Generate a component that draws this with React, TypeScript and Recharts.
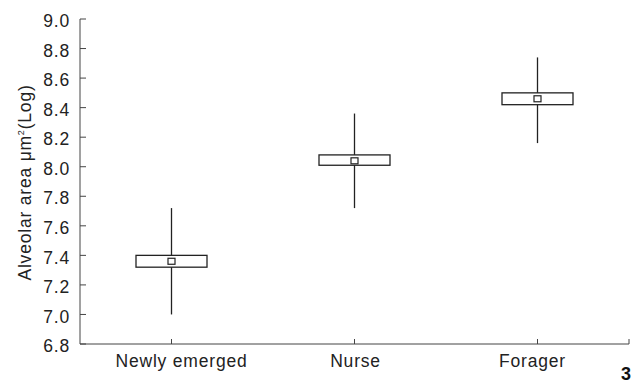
import React from "react";
import { Bar, ComposedChart, XAxis, YAxis } from "recharts";

// Alveolar area (log µm²) per worker group: whisker range, box and mean marker.
const GROUPS = ["Newly emerged", "Nurse", "Forager"];
const WHISKER_LOW = [7.0, 7.72, 8.16];
const BOX_LOW = [7.32, 8.01, 8.42];
const MEANS = [7.36, 8.04, 8.46];
const BOX_HIGH = [7.4, 8.08, 8.5];
const WHISKER_HIGH = [7.72, 8.36, 8.74];
const Y_TICKS = [6.8, 7.0, 7.2, 7.4, 7.6, 7.8, 8.0, 8.2, 8.4, 8.6, 8.8, 9.0];

const FONT = "'Liberation Sans', Arial, Helvetica, sans-serif";
const INK = "#222";
const AXIS_STROKE = "#444";
const FONT_SIZE = 17.5;
const SPACING = 0.8;
const TICK = { fill: INK, fontSize: FONT_SIZE, fontFamily: FONT, letterSpacing: SPACING, dy: 2 };
// the group names are set slightly off their ticks
const LABEL_NUDGE = [10, 1, -5];

// groups sit in the middle of unit-wide slots on a 0..3 numeric axis,
// so the axis can also carry a closing tick at its right end
const data = GROUPS.map((name, i) => ({
  name,
  pos: i + 0.5,
  range: [WHISKER_LOW[i], WHISKER_HIGH[i]],
  lo: WHISKER_LOW[i],
  q1: BOX_LOW[i],
  mean: MEANS[i],
  q3: BOX_HIGH[i],
  hi: WHISKER_HIGH[i],
}));

const X_TICKS = [0.5, 1.5, 2.5, 3];

function GroupTick(props: any) {
  const { x, y, payload } = props;
  const i = Math.floor(payload.value);
  if (i >= GROUPS.length) return null;
  return (
    <text
      x={x + LABEL_NUDGE[i]}
      y={y}
      dy="0.71em"
      textAnchor="middle"
      fill={INK}
      fontSize={FONT_SIZE}
      fontFamily={FONT}
      letterSpacing={SPACING}
    >
      {GROUPS[i]}
    </text>
  );
}

// Bar spans lo..hi; the box and mean are placed inside it with the same px/unit ratio
function BoxShape(props: any) {
  const { x, y, width, height, payload } = props;
  if (!payload || height == null) return null;
  const { lo, q1, mean, q3, hi } = payload;
  const k = height / (hi - lo);
  const toY = (v: number) => y + (hi - v) * k;
  const cx = x + width / 2;
  const my = toY(mean);
  return (
    <g>
      <line x1={cx} x2={cx} y1={toY(hi)} y2={toY(lo)} stroke={INK} strokeWidth={1.3} />
      <rect
        x={x}
        y={toY(q3)}
        width={width}
        height={toY(q1) - toY(q3)}
        fill="#fff"
        stroke={INK}
        strokeWidth={1.3}
      />
      <rect x={cx - 3.5} y={my - 3} width={7} height={6} fill="#fff" stroke={INK} strokeWidth={1.2} />
    </g>
  );
}

function YTitle(props: any) {
  const vb = props.viewBox ?? { x: 0, y: 0, width: 0, height: 0 };
  const tx = vb.x + 31;
  const ty = vb.y + vb.height / 2 + 1;
  return (
    <text
      transform={`translate(${tx},${ty}) rotate(-90)`}
      textAnchor="middle"
      fill={INK}
      fontSize={FONT_SIZE}
      fontFamily={FONT}
      letterSpacing={SPACING}
    >
      Alveolar area μm
      <tspan dy={-7} fontSize={9}>
        2
      </tspan>
      <tspan dy={7}>(Log)</tspan>
    </text>
  );
}

function PanelNumber(props: any) {
  const vb = props.viewBox ?? { x: 0, y: 0, width: 0, height: 0 };
  return (
    <text
      x={vb.x + vb.width + 2}
      y={vb.y + 36}
      textAnchor="end"
      fill="#111"
      fontSize={18}
      fontWeight="bold"
      fontFamily={FONT}
    >
      3
    </text>
  );
}

export default function App() {
  return (
    <div style={{ position: "absolute", left: 0, top: 0, width: 642, height: 384, background: "#fff" }}>
      <ComposedChart width={642} height={384} data={data} margin={{ top: 19, right: 13, bottom: 0, left: 0 }}>
        <XAxis
          type="number"
          dataKey="pos"
          domain={[0, 3]}
          ticks={X_TICKS}
          interval={0}
          height={40}
          tick={<GroupTick />}
          tickSize={-5}
          tickMargin={16}
          stroke={AXIS_STROKE}
          label={{ content: PanelNumber }}
        />
        <YAxis
          type="number"
          domain={[6.8, 9.0]}
          ticks={Y_TICKS}
          tickFormatter={(v: number) => v.toFixed(1)}
          interval={0}
          width={80}
          tick={TICK}
          tickSize={-6}
          tickMargin={16}
          stroke={AXIS_STROKE}
          label={{ content: YTitle }}
        />
        <Bar dataKey="range" barSize={71} shape={BoxShape} isAnimationActive={false} />
      </ComposedChart>
    </div>
  );
}
